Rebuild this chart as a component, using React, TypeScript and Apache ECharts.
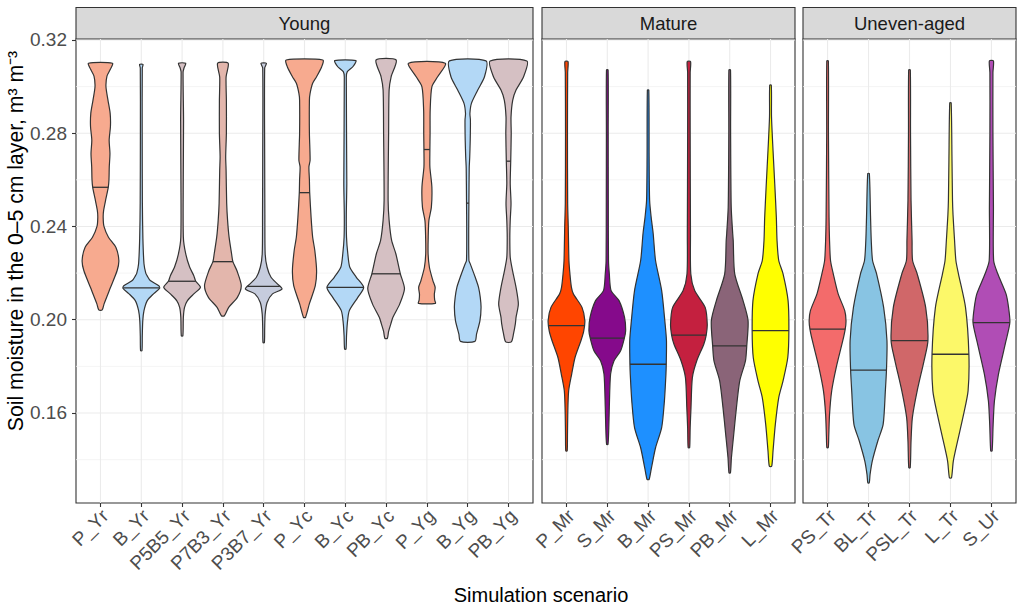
import React, { useEffect, useRef } from 'react';
import * as echarts from 'echarts';

// ---------- DATA ----------
const yTicks = [0.16, 0.2, 0.24, 0.28, 0.32];
const yMinor = [0.14, 0.18, 0.22, 0.26, 0.3];

const panelNames = ['Young', 'Mature', 'Uneven-aged'];

const youngCats = ['P_Yr', 'B_Yr', 'P5B5_Yr', 'P7B3_Yr', 'P3B7_Yr', 'P_Yc', 'B_Yc', 'PB_Yc', 'P_Yg', 'B_Yg', 'PB_Yg'];
const matureCats = ['P_Mr', 'S_Mr', 'B_Mr', 'PS_Mr', 'PB_Mr', 'L_Mr'];
const unevenCats = ['PS_Tr', 'BL_Tr', 'PSL_Tr', 'L_Tr', 'S_Ur'];

const youngColors = ['#F7AA8F', '#B3D8F6', '#D5C0C3', '#E3B6AC', '#C6CCDD', '#F7AA8F', '#B3D8F6', '#D5C0C3', '#F7AA8F', '#B3D8F6', '#D5C0C3'];
const matureColors = ['#FF4500', '#850A8B', '#1E90FF', '#C4203F', '#8A6478', '#FFFF00'];
const unevenColors = ['#F36B6B', '#88C4E3', '#D06769', '#FCF869', '#B04DB5'];

const youngMedians = [0.2568, 0.2137, 0.2165, 0.2249, 0.2143, 0.2545, 0.2139, 0.2197, 0.273, 0.25, 0.268];
const matureMedians = [0.1975, 0.1921, 0.1809, 0.1934, 0.1888, 0.1953];
const unevenMedians = [0.196, 0.1784, 0.191, 0.1852, 0.1988];

// density profiles: [soil moisture, relative density], top to bottom
const pYr = [[0.31, 12], [0.3075, 10], [0.3045, 6.5], [0.2999, 5.5], [0.2942, 7.5], [0.2885, 9.7], [0.283, 10], [0.277, 8.7], [0.2713, 9.5], [0.2655, 8.8], [0.26, 8.5], [0.2568, 7.8], [0.252, 5.5], [0.247, 3.2], [0.2439, 2.7], [0.24, 3.5], [0.2354, 8], [0.231, 15.5], [0.2254, 18.4], [0.2211, 16.7], [0.2138, 10], [0.2069, 3.7], [0.2042, 1.7]];
const bYr = [[0.3095, 1.7], [0.308, 1.0], [0.28, 0.9], [0.25, 1.1], [0.235, 1.6], [0.224, 2.7], [0.22, 4.5], [0.2189, 5.8], [0.2168, 9], [0.2146, 17.5], [0.2135, 18.4], [0.2112, 12.5], [0.2082, 6], [0.2039, 2.7], [0.1996, 1.5], [0.193, 1.0], [0.1867, 0.7]];
const p5b5Yr = [[0.31, 3.7], [0.308, 2.0], [0.3062, 1.0], [0.2856, 1.5], [0.26, 1.2], [0.2354, 1.3], [0.2283, 3.7], [0.2225, 7.8], [0.2189, 12], [0.2165, 14], [0.2139, 18.8], [0.2111, 12], [0.2082, 5.5], [0.2053, 2.5], [0.201, 1.3], [0.1931, 0.8]];
const p7b3Yr = [[0.31, 5.3], [0.3041, 3.2], [0.2942, 3.5], [0.28, 3.5], [0.27, 2.8], [0.2641, 3.2], [0.2499, 3.8], [0.2426, 4.7], [0.2354, 6.2], [0.2283, 8.7], [0.2249, 10], [0.2211, 14], [0.2146, 18.4], [0.2096, 14.5], [0.2053, 5.8], [0.2017, 1.5]];
const p3b7Yr = [[0.31, 2.8], [0.308, 1.0], [0.27, 1.0], [0.245, 1.2], [0.2283, 1.5], [0.2225, 3.5], [0.2182, 7.5], [0.2154, 14], [0.2132, 18.8], [0.2111, 9], [0.2074, 3.5], [0.2024, 1.5], [0.196, 1.0], [0.1902, 0.7]];
const pYc = [[0.3114, 18.7], [0.3085, 17.5], [0.3042, 12.3], [0.3014, 8.3], [0.2971, 5.7], [0.2942, 5], [0.2799, 5], [0.2684, 5.7], [0.2655, 4.5], [0.26, 5], [0.2545, 5.3], [0.244, 6.7], [0.2354, 8.3], [0.2297, 10.5], [0.2211, 12.3], [0.2146, 11], [0.2069, 5], [0.201, 1]];
const bYc = [[0.3111, 10.5], [0.3085, 7.5], [0.3064, 2], [0.304, 1.0], [0.2585, 1.5], [0.245, 1.0], [0.2354, 1.2], [0.2283, 2.5], [0.2225, 4.5], [0.2182, 11], [0.2139, 18.3], [0.2096, 12.5], [0.2039, 4], [0.1983, 2], [0.193, 1.2], [0.1874, 0.7]];
const pbYc = [[0.3114, 10], [0.3042, 5], [0.2985, 3], [0.2799, 2.5], [0.2512, 2], [0.2426, 3], [0.234, 5.5], [0.2283, 9.7], [0.2197, 14.2], [0.2133, 18.3], [0.2067, 13.5], [0.201, 6.7], [0.1982, 4.7], [0.195, 2.5], [0.192, 1.2]];
const pYg = [[0.31, 18.5], [0.3042, 10.8], [0.2999, 5], [0.2899, 3.3], [0.28, 3.2], [0.273, 3], [0.2655, 3], [0.2569, 5], [0.2483, 4.5], [0.2426, 2], [0.2354, 1.3], [0.2283, 1.2], [0.2225, 2.5], [0.2168, 6], [0.2139, 8.3], [0.211, 7.5], [0.2085, 7.8], [0.207, 8.5]];
const bYg = [[0.311, 18.3], [0.3042, 16.7], [0.2985, 10], [0.2928, 3.7], [0.2885, 2.2], [0.2856, 2.7], [0.277, 2.5], [0.2698, 2], [0.265, 1.5], [0.2512, 1.2], [0.24, 1.0], [0.2254, 1.2], [0.224, 2.5], [0.2182, 7.5], [0.2139, 10.8], [0.2096, 12.5], [0.2053, 13.3], [0.1996, 12.2], [0.1938, 8.8], [0.1907, 7.2]];
const pbYg = [[0.311, 18.3], [0.3042, 15], [0.2985, 7.5], [0.2942, 4.2], [0.287, 2.5], [0.2799, 2.7], [0.268, 2.2], [0.2585, 1.7], [0.2499, 2.5], [0.2426, 1.7], [0.2354, 1.3], [0.2268, 1.7], [0.2211, 4], [0.2139, 7.5], [0.2067, 9.8], [0.201, 7.5], [0.1982, 6.8], [0.194, 5], [0.1905, 2.8]];

const pMr = [[0.3107, 1.6], [0.306, 1.2], [0.28, 1.0], [0.25, 1.2], [0.24, 1.8], [0.2254, 2.5], [0.2197, 3.5], [0.214, 5], [0.2111, 7], [0.2053, 15.8], [0.1996, 18.7], [0.195, 17.5], [0.191, 14.7], [0.1838, 8.7], [0.1767, 5.3], [0.1695, 2.2], [0.1594, 1.3], [0.15, 1.0], [0.1437, 0.7]];
const sMr = [[0.3071, 0.8], [0.28, 0.9], [0.2512, 1.0], [0.2254, 1.2], [0.2198, 2], [0.2125, 3.8], [0.2082, 11.7], [0.201, 17.2], [0.1953, 18.3], [0.1921, 17], [0.1867, 13.3], [0.1824, 6.7], [0.1767, 3.3], [0.1623, 2], [0.1537, 1.5], [0.1465, 0.7]];
const bMr = [[0.2985, 0.7], [0.27, 1.0], [0.2512, 1.5], [0.244, 3], [0.2369, 5], [0.2254, 7.3], [0.2125, 13.3], [0.1981, 16.7], [0.191, 18], [0.1809, 17.8], [0.1767, 17.5], [0.1652, 16], [0.1537, 13.3], [0.1451, 7.3], [0.1365, 3.3], [0.1315, 1]];
const psMr = [[0.3107, 1.6], [0.306, 1.2], [0.28, 1.2], [0.2369, 1.5], [0.2197, 1.8], [0.2125, 5.5], [0.2053, 15.5], [0.1981, 17.5], [0.1934, 16.5], [0.1895, 14.2], [0.1824, 7.5], [0.1752, 3.3], [0.1623, 2], [0.1537, 1.2], [0.1451, 0.7]];
const pbMr = [[0.3071, 0.8], [0.28, 0.9], [0.2483, 1.5], [0.2369, 3], [0.234, 3.5], [0.2197, 5], [0.2082, 13.3], [0.1996, 18.3], [0.1888, 17], [0.1824, 15.7], [0.1738, 10], [0.1623, 6.7], [0.1508, 4], [0.1408, 1.7], [0.1343, 0.7]];
const lMr = [[0.3006, 0.8], [0.287, 1.0], [0.2727, 2.5], [0.2584, 4.2], [0.244, 5.8], [0.234, 6.5], [0.2254, 8.2], [0.2197, 12.5], [0.2082, 17.5], [0.1953, 18.3], [0.1838, 17.2], [0.1738, 12.5], [0.1666, 8.2], [0.1551, 4.8], [0.1437, 2.5], [0.1372, 1.2]];

const psTr = [[0.311, 0.8], [0.28, 0.9], [0.244, 1.5], [0.234, 2], [0.2254, 3], [0.2197, 5.8], [0.2111, 10.8], [0.2039, 17.5], [0.1996, 18.8], [0.196, 18], [0.191, 15.5], [0.1795, 8.8], [0.1695, 4.2], [0.1594, 2], [0.15, 1.2], [0.1451, 0.7]];
const blTr = [[0.2627, 0.8], [0.244, 2], [0.234, 2.7], [0.2254, 4], [0.2197, 8], [0.2053, 15], [0.191, 18.3], [0.1784, 17.8], [0.1695, 16.7], [0.1551, 14.5], [0.148, 9.2], [0.1394, 3.7], [0.1336, 1.5], [0.13, 0.7]];
const pslTr = [[0.3071, 0.8], [0.28, 1.0], [0.2512, 1.5], [0.234, 2.5], [0.2254, 3], [0.2197, 7.5], [0.2053, 15.8], [0.191, 18], [0.1824, 14.2], [0.1695, 7.5], [0.158, 2.8], [0.148, 1.5], [0.1365, 0.7]];
const lTr = [[0.293, 0.7], [0.2684, 1.5], [0.2512, 2], [0.245, 2.5], [0.234, 4], [0.2254, 5.3], [0.2197, 7.8], [0.2053, 14.7], [0.1852, 18], [0.1695, 17.2], [0.1594, 12.8], [0.148, 7], [0.1394, 2.8], [0.1322, 1]];
const sUr = [[0.311, 2], [0.306, 1.5], [0.28, 1.5], [0.2483, 2], [0.2254, 2.2], [0.2197, 6.3], [0.2111, 14.5], [0.2053, 17], [0.1988, 18.3], [0.191, 14.5], [0.1767, 7], [0.1652, 3], [0.1551, 1.7], [0.1437, 0.7]];

const youngProfiles = [pYr, bYr, p5b5Yr, p7b3Yr, p3b7Yr, pYc, bYc, pbYc, pYg, bYg, pbYg];
const matureProfiles = [pMr, sMr, bMr, psMr, pbMr, lMr];
const unevenProfiles = [psTr, blTr, pslTr, lTr, sUr];

// ---------- LAYOUT ----------
const FONT = '"Liberation Sans", Arial, Helvetica, sans-serif';
const grids = [
  { left: 76, top: 39, width: 457, height: 464 },
  { left: 542, top: 39, width: 253, height: 464 },
  { left: 803, top: 39, width: 213, height: 464 },
];
const Y_MIN = 0.1214;
const Y_MAX = 0.3204;
const HALF = 0.45;

function densityAt(prof: number[][], v: number) {
  for (let k = 0; k < prof.length - 1; k++) {
    const [v1, d1] = prof[k];
    const [v2, d2] = prof[k + 1];
    if (v <= v1 && v >= v2) {
      const t = v1 === v2 ? 0 : (v1 - v) / (v1 - v2);
      return d1 + (d2 - d1) * t;
    }
  }
  return 0;
}

function violinSeries(g: number, profiles: number[][][], medians: number[], colors: string[]) {
  return {
    type: 'custom',
    xAxisIndex: g,
    yAxisIndex: g,
    z: 5,
    silent: true,
    clip: false,
    data: medians.map((m, i) => [i, m]),
    encode: { x: 0, y: 1 },
    renderItem: (params: any, api: any) => {
      const i = api.value(0);
      const med = api.value(1);
      const prof = profiles[i];
      const maxD = Math.max(...prof.map((p) => p[1]));
      const right = prof.map(([v, d]) => api.coord([i + (HALF * d) / maxD, v]));
      const left = prof
        .slice()
        .reverse()
        .map(([v, d]) => api.coord([i - (HALF * d) / maxD, v]));
      const dm = (densityAt(prof, med) / maxD) * HALF;
      const m1 = api.coord([i - dm, med]);
      const m2 = api.coord([i + dm, med]);
      return {
        type: 'group',
        children: [
          {
            type: 'polygon',
            shape: { points: right.concat(left), smooth: 0.25 },
            style: { fill: colors[i], stroke: '#333333', lineWidth: 1.2 },
          },
          {
            type: 'line',
            shape: { x1: m1[0], y1: m1[1], x2: m2[0], y2: m2[1] },
            style: { stroke: '#333333', lineWidth: 1.3 },
          },
        ],
      };
    },
  };
}

function xLabelSeries(g: number, cats: string[]) {
  return {
    type: 'custom',
    xAxisIndex: g,
    yAxisIndex: g,
    z: 10,
    silent: true,
    clip: false,
    data: cats.map((_, i) => [i, Y_MIN]),
    encode: { x: 0, y: 1 },
    renderItem: (params: any, api: any) => {
      const p = api.coord([api.value(0), Y_MIN]);
      return {
        type: 'text',
        x: p[0] - 2,
        y: p[1] + 3,
        rotation: Math.PI / 4,
        style: {
          text: cats[params.dataIndex],
          fontSize: 19,
          fill: '#4D4D4D',
          align: 'right',
          verticalAlign: 'top',
          fontFamily: FONT,
        },
      };
    },
  };
}

function hGridSeries(g: number) {
  const vals = yTicks.map((v) => [0, v, 1]).concat(yMinor.map((v) => [0, v, 0]));
  return {
    type: 'custom',
    xAxisIndex: g,
    yAxisIndex: g,
    z: 1,
    silent: true,
    data: vals,
    encode: { x: 0, y: 1 },
    renderItem: (params: any, api: any) => {
      const cs = params.coordSys;
      const y = api.coord([0, api.value(1)])[1];
      const major = api.value(2) === 1;
      return {
        type: 'line',
        shape: { x1: cs.x, y1: y, x2: cs.x + cs.width, y2: y },
        style: { stroke: major ? '#EBEBEB' : '#F3F3F3', lineWidth: major ? 1.1 : 0.8 },
      };
    },
  };
}

function vGridSeries(g: number, n: number) {
  const idx = Array.from({ length: n }, (_, i) => [i, 0.2]);
  return {
    type: 'custom',
    xAxisIndex: g,
    yAxisIndex: g,
    z: 1,
    silent: true,
    data: idx,
    encode: { x: 0, y: 1 },
    renderItem: (params: any, api: any) => {
      const cs = params.coordSys;
      const x = api.coord([api.value(0), 0.2])[0];
      return {
        type: 'line',
        shape: { x1: x, y1: cs.y, x2: x, y2: cs.y + cs.height },
        style: { stroke: '#EBEBEB', lineWidth: 1.1 },
      };
    },
  };
}

export default function App() {
  const ref = useRef<HTMLDivElement>(null);
  useEffect(() => {
    if (!ref.current) return;
    const chart = echarts.init(ref.current, undefined, { renderer: 'svg' });
    const catsList = [youngCats, matureCats, unevenCats];
    const option: any = {
      animation: false,
      backgroundColor: '#ffffff',
      textStyle: { fontFamily: FONT },
      grid: grids.map((g) => ({
        ...g,
        show: true,
        backgroundColor: '#ffffff',
        borderColor: '#333333',
        borderWidth: 1.1,
        containLabel: false,
        outerBoundsMode: 'none',
      })),
      xAxis: catsList.map((cats, g) => {
        const idx = cats.map((_, i) => i);
        return {
          type: 'value',
          gridIndex: g,
          min: -0.6,
          max: cats.length - 0.4,
          axisLine: { show: false, onZero: false },
          splitLine: { show: false },
          axisTick: { show: true, customValues: idx, length: 4, lineStyle: { color: '#333333', width: 1.1 } },
          axisLabel: { show: false, customValues: idx },
        };
      }),
      yAxis: [0, 1, 2].map((g) => ({
        type: 'value',
        gridIndex: g,
        min: Y_MIN,
        max: Y_MAX,
        axisLine: { show: false, onZero: false },
        splitLine: { show: false },
        axisTick: { show: g === 0, customValues: yTicks, length: 4, lineStyle: { color: '#333333', width: 1.1 } },
        axisLabel: {
          show: g === 0,
          customValues: yTicks,
          formatter: (v: number) => v.toFixed(2),
          fontSize: 19,
          color: '#4D4D4D',
          margin: 9,
          fontFamily: FONT,
        },
      })),
      graphic: [
        ...grids.map((g, k) => ({
          type: 'group',
          children: [
            {
              type: 'rect',
              shape: { x: g.left, y: 7.5, width: g.width, height: 31.5 },
              style: { fill: '#D9D9D9', stroke: '#333333', lineWidth: 1.1 },
            },
            {
              type: 'text',
              x: g.left + g.width / 2,
              y: 23.5,
              style: {
                text: panelNames[k],
                fontSize: 18.5,
                fill: '#1A1A1A',
                align: 'center',
                verticalAlign: 'middle',
                fontFamily: FONT,
              },
            },
          ],
        })),
        {
          type: 'text',
          x: 541,
          y: 595,
          style: {
            text: 'Simulation scenario',
            fontSize: 20,
            fill: '#000000',
            align: 'center',
            verticalAlign: 'middle',
            fontFamily: FONT,
          },
        },
        {
          type: 'text',
          x: 15,
          y: 241,
          rotation: Math.PI / 2,
          style: {
            text: 'Soil moisture in the 0–5 cm layer, m³ m⁻³',
            fontSize: 21.2,
            fill: '#000000',
            align: 'center',
            verticalAlign: 'middle',
            fontFamily: FONT,
          },
        },
      ],
      series: [
        hGridSeries(0),
        hGridSeries(1),
        hGridSeries(2),
        vGridSeries(0, youngCats.length),
        vGridSeries(1, matureCats.length),
        vGridSeries(2, unevenCats.length),
        violinSeries(0, youngProfiles, youngMedians, youngColors),
        violinSeries(1, matureProfiles, matureMedians, matureColors),
        violinSeries(2, unevenProfiles, unevenMedians, unevenColors),
        xLabelSeries(0, youngCats),
        xLabelSeries(1, matureCats),
        xLabelSeries(2, unevenCats),
      ],
    };
    chart.setOption(option);
    return () => chart.dispose();
  }, []);
  return (
    <div
      ref={ref}
      style={{ position: 'fixed', left: 0, top: 0, width: 1024, height: 614, background: '#fff' }}
    />
  );
}
